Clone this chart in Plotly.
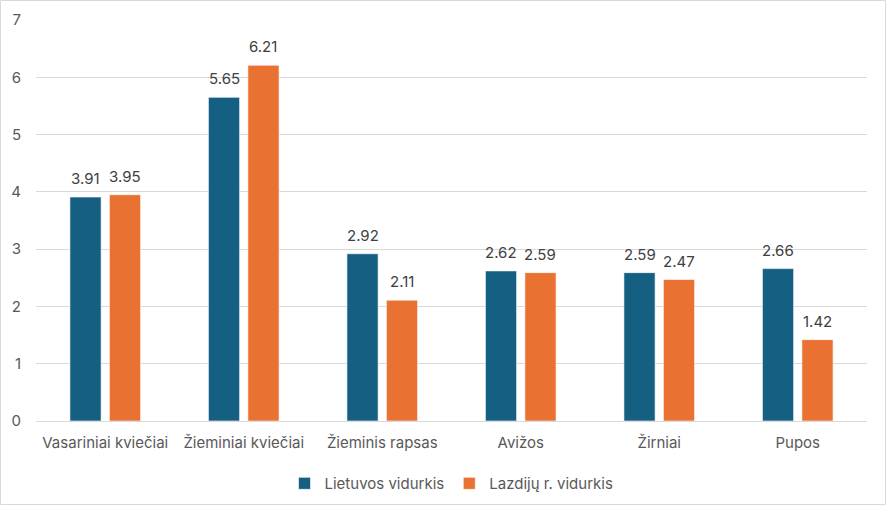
import plotly.graph_objects as go

categories = ["Vasariniai kviečiai", "Žieminiai kviečiai", "Žieminis rapsas", "Avižos", "Žirniai", "Pupos"]
lietuvos = [3.91, 5.65, 2.92, 2.62, 2.59, 2.66]
lazdiju = [3.95, 6.21, 2.11, 2.59, 2.47, 1.42]
series_names = ["Lietuvos vidurkis", "Lazdijų r. vidurkis"]
y_ticks = [0, 1, 2, 3, 4, 5, 6, 7]

FONT = "Inter, Liberation Sans, sans-serif"
TXT = "#595959"
LBL = "#404040"
FS = 15

W, H = 886, 505
ml, mr, mt, mb = 36, 19, 20, 84
pw, ph = W - ml - mr, H - mt - mb
bargap, bargroupgap = 0.43, 0.21
slot_px = pw / len(categories) * (1 - bargap) / 2

fig = go.Figure()
annotations = []
for i, (name, vals, col) in enumerate([(series_names[0], lietuvos, "#156082"),
                                       (series_names[1], lazdiju, "#E97132")]):
    fig.add_trace(go.Bar(
        x=categories, y=vals, name=name,
        marker=dict(color=col, line=dict(color="rgba(255,255,255,0.6)", width=1)),
    ))
    shift = (i - 0.5) * slot_px
    for c, v in zip(categories, vals):
        annotations.append(dict(x=c, y=v, xref="x", yref="y", text=f"{v:.2f}", showarrow=False,
                                xshift=shift, yshift=7, yanchor="bottom",
                                font=dict(family=FONT, size=FS, color=LBL)))

fig.update_layout(
    width=W, height=H,
    margin=dict(l=ml, r=mr, t=mt, b=mb, autoexpand=False),
    paper_bgcolor="white", plot_bgcolor="white",
    barmode="group", bargap=bargap, bargroupgap=bargroupgap,
    font=dict(family=FONT, size=FS, color=TXT),
    showlegend=True,
    legend=dict(orientation="h", x=0.5, xanchor="center", y=-0.115, yanchor="top",
                font=dict(family=FONT, size=FS, color=TXT), itemwidth=30, traceorder="normal"),
    xaxis=dict(showgrid=False, showline=True, linecolor="#D9D9D9", linewidth=1, automargin=False,
               ticks="", ticklabelstandoff=8, tickfont=dict(family=FONT, size=FS, color=TXT)),
    yaxis=dict(range=[0, 7], tickvals=y_ticks, showgrid=True, gridcolor="#D9D9D9", gridwidth=1,
               zeroline=False, showline=False, ticks="", automargin=False, ticklabelstandoff=14,
               tickfont=dict(family=FONT, size=FS, color=TXT)),
    annotations=annotations,
    shapes=[dict(type="rect", xref="paper", yref="paper",
                 x0=-(ml - 0.5) / pw, x1=1 + (mr - 0.5) / pw,
                 y0=-(mb - 0.5) / ph, y1=1 + (mt - 0.5) / ph,
                 line=dict(color="#D9D9D9", width=1), fillcolor="rgba(0,0,0,0)", layer="below")],
)

fig.write_html("out.html", config={"displayModeBar": False},
               post_script="document.body.style.margin='0';document.body.style.overflow='hidden';")
